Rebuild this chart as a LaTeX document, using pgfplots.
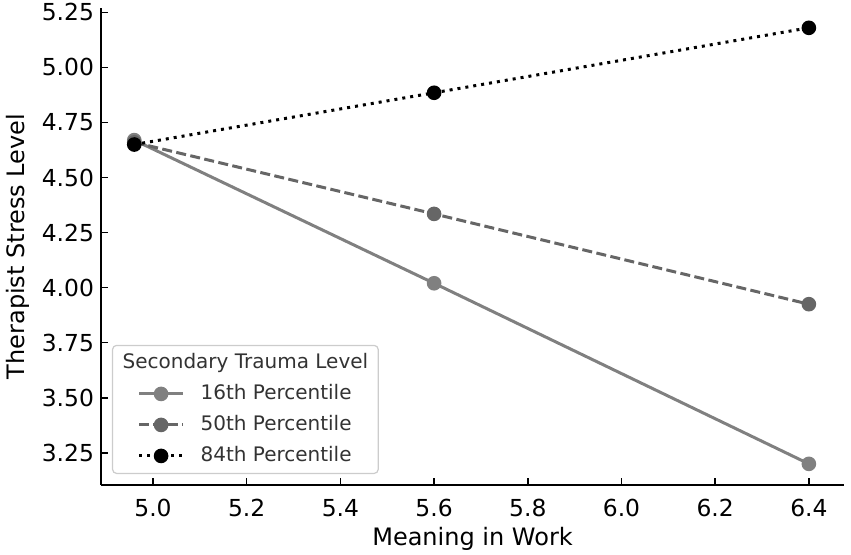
\documentclass[border=0pt]{standalone}
\usepackage{fontspec}
\setmainfont{DejaVu Sans}
\usepackage{pgfplots}
\pgfplotsset{compat=1.18}
\definecolor{c16}{HTML}{808080}
\definecolor{c50}{HTML}{666666}
\definecolor{legframe}{HTML}{CCCCCC}
\definecolor{legtext}{HTML}{333333}
\begin{document}
\begin{tikzpicture}
\begin{axis}[
  at={(50.5pt,35pt)}, anchor=south west,
  scale only axis, width=371.5pt, height=238.5pt,
  xmin=4.889, xmax=6.475, ymin=3.104, ymax=5.27,
  axis x line=bottom, axis y line=left,
  axis line style={-, line width=1pt, black},
  xtick={5.0,5.2,5.4,5.6,5.8,6.0,6.2,6.4},
  ytick={3.25,3.5,3.75,4.0,4.25,4.5,4.75,5.0,5.25},
  tick align=inside, major tick length=3.5pt,
  tick style={line width=0.75pt, black},
  /pgf/number format/assume math mode=true,
  tick label style={font=\fontsize{11.7}{14}\selectfont, text=black},
  xticklabel style={yshift=-3.6pt, /pgf/number format/.cd, fixed, fixed zerofill, precision=1},
  yticklabel style={/pgf/number format/.cd, fixed, fixed zerofill, precision=2},
  xlabel={Meaning in Work}, ylabel={Therapist Stress Level},
  label style={font=\fontsize{12}{14}\selectfont, text=black},
  xlabel style={at={(axis description cs:0.5,0)}, anchor=center, yshift=-27pt},
  ylabel style={at={(axis description cs:-0.1117,0.5)}, anchor=center},
  legend cell align=left,
  legend style={at={(axis description cs:0.0148,0.023)}, anchor=south west,
    draw=legframe, line width=0.6pt, rounded corners=2pt, fill=white,
    inner xsep=5pt, inner ysep=4pt, row sep=6pt, column sep=8pt,
    nodes={inner sep=0pt, text height=7.5pt, text depth=2pt, text=legtext,
      font=\fontsize{10}{12}\selectfont}},
  legend image code/.code={\path (-7.5pt,0pt);
    \draw[mark repeat=2,mark phase=2,#1] plot coordinates {(0pt,0pt) (11pt,0pt) (22pt,0pt)};},
]
\addlegendimage{empty legend}
\addlegendentry{\hspace*{-39pt}Secondary Trauma Level}
\addplot[c16, line width=1.5pt, mark=*, mark size=2.9pt, mark options={solid}]
  coordinates {(4.96,4.67) (5.6,4.02) (6.4,3.20)};
\addlegendentry{16th Percentile}
\addplot[c50, line width=1.5pt, dash pattern=on 5pt off 2.2pt, mark=*, mark size=2.9pt, mark options={solid}]
  coordinates {(4.96,4.66) (5.6,4.335) (6.4,3.925)};
\addlegendentry{50th Percentile}
\addplot[black, line width=1.5pt, line cap=butt, dash pattern=on 1.5pt off 2.5pt, mark=*, mark size=2.9pt, mark options={solid}]
  coordinates {(4.96,4.65) (5.6,4.885) (6.4,5.18)};
\addlegendentry{84th Percentile}
\end{axis}
\pgfresetboundingbox
\path (0,0) rectangle (425.5pt,277.5pt);
\end{tikzpicture}
\end{document}
